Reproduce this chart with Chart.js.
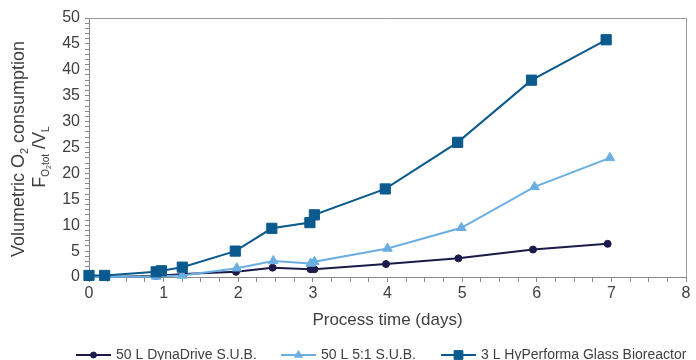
<!DOCTYPE html>
<html><head><meta charset="utf-8">
<script src="https://cdn.jsdelivr.net/npm/chart.js@4.4.1/dist/chart.umd.min.js"></script>
<style>html,body{margin:0;padding:0;background:#fff}#wrap{width:696px;height:360px;position:relative}</style>
</head><body><div id="wrap"><canvas id="c"></canvas></div>
<script>
// ---- data ----
const seriesNames = ["50 L DynaDrive S.U.B.", "50 L 5:1 S.U.B.", "3 L HyPerforma Glass Bioreactor"];
const dynaDriveTime = [0, 0.21, 0.9, 1.27, 1.97, 2.46, 2.97, 3.02, 3.98, 4.95, 5.95, 6.95];
const dynaDriveValues = [0, 0, 0.2, 0.6, 1.0, 1.8, 1.5, 1.5, 2.5, 3.6, 5.3, 6.4];
const fiveToOneTime = [0, 0.21, 0.9, 1.25, 1.98, 2.47, 2.97, 3.02, 4.0, 4.99, 5.97, 6.98];
const fiveToOneValues = [0, 0, 0.1, 0.3, 1.7, 3.1, 2.6, 2.95, 5.5, 9.5, 17.4, 23.0];
const glassTime = [0, 0.21, 0.9, 0.97, 1.25, 1.96, 2.45, 2.96, 3.02, 3.97, 4.94, 5.93, 6.93];
const glassValues = [0.3, 0.3, 1.0, 1.2, 1.9, 5.0, 9.4, 10.5, 12.0, 17.0, 26.0, 38.0, 45.8];
const xTickLabels = [0, 1, 2, 3, 4, 5, 6, 7, 8];
const yTickLabels = [0, 5, 10, 15, 20, 25, 30, 35, 40, 45, 50];
const xAxisTitle = "Process time (days)";

const colors = ["#1b1a48", "#6aaee2", "#0a5a8e"];
const styles = ["circle", "triangle", "rect"];
const radii = [3.5, 5.5, 7.2];
const legendRadii = [3, 4.5, 6.2];
const FONT = "'Liberation Sans', Arial, Helvetica, sans-serif";
const TEXT = "#404040";

function pts(xs, ys) { return xs.map((x, i) => ({x: x, y: ys[i]})); }

const datasets = [
  [dynaDriveTime, dynaDriveValues],
  [fiveToOneTime, fiveToOneValues],
  [glassTime, glassValues]
].map((d, i) => ({
  label: seriesNames[i],
  data: pts(d[0], d[1]),
  borderColor: colors[i],
  backgroundColor: colors[i],
  pointBackgroundColor: colors[i],
  pointBorderColor: colors[i],
  pointStyle: styles[i],
  pointRadius: radii[i],
  pointBorderWidth: 1,
  borderWidth: 2,
  tension: 0,
  clip: false,
  order: 2 - i
}));

function drawRuns(ctx, runs, cx, cy) {
  let total = 0;
  runs.forEach(r => { ctx.font = r.size + "px " + FONT; r.w = ctx.measureText(r.t).width; total += r.w; });
  let x = cx - total / 2;
  runs.forEach(r => {
    ctx.font = r.size + "px " + FONT;
    ctx.fillText(r.t, x, cy + (r.dy || 0));
    x += r.w;
  });
}

const decor = {
  id: "decor",
  afterDraw(chart) {
    const ctx = chart.ctx, a = chart.chartArea;
    ctx.save();
    // top & right frame
    ctx.strokeStyle = "#999";
    ctx.lineWidth = 1;
    ctx.beginPath();
    ctx.moveTo(a.left, Math.round(a.top) + 0.5);
    ctx.lineTo(Math.round(a.right) + 0.5, Math.round(a.top) + 0.5);
    ctx.lineTo(Math.round(a.right) + 0.5, a.bottom);
    ctx.stroke();

    ctx.fillStyle = TEXT;
    ctx.textBaseline = "middle";
    // x title
    ctx.font = "17px " + FONT;
    ctx.textAlign = "center";
    ctx.fillText(xAxisTitle, (a.left + a.right) / 2, 320);
    ctx.textAlign = "left";

    // y title (rotated)
    ctx.save();
    ctx.translate(18, 149);
    ctx.rotate(-Math.PI / 2);
    ctx.textBaseline = "alphabetic";
    drawRuns(ctx, [
      {t: "Volumetric O", size: 18, dy: 6},
      {t: "2", size: 11, dy: 10},
      {t: " consumption", size: 18, dy: 6}
    ], 0, 0);
    ctx.restore();
    ctx.save();
    ctx.translate(39, 157);
    ctx.rotate(-Math.PI / 2);
    ctx.textBaseline = "alphabetic";
    drawRuns(ctx, [
      {t: "F", size: 18, dy: 6},
      {t: "O", size: 10, dy: 10},
      {t: "2", size: 7, dy: 12},
      {t: "tot", size: 10, dy: 10},
      {t: " /V", size: 18, dy: 6},
      {t: "L", size: 10, dy: 10}
    ], 0, 0);
    ctx.restore();

    // legend
    const lx = [76, 281, 441];
    const ly = 355;
    ctx.font = "14px " + FONT;
    ctx.textBaseline = "middle";
    seriesNames.forEach((name, i) => {
      ctx.strokeStyle = colors[i];
      ctx.fillStyle = colors[i];
      ctx.lineWidth = 2;
      ctx.beginPath();
      ctx.moveTo(lx[i], ly);
      ctx.lineTo(lx[i] + 35, ly);
      ctx.stroke();
      ctx.lineWidth = 1;
      Chart.helpers.drawPoint(ctx, {pointStyle: styles[i], radius: legendRadii[i], rotation: 0, borderWidth: 1}, lx[i] + 17.5, ly);
      ctx.fillStyle = TEXT;
      ctx.fillText(name, lx[i] + 40, ly);
    });
    ctx.restore();
  }
};

new Chart(document.getElementById("c"), {
  type: "line",
  data: {datasets: datasets},
  plugins: [decor],
  options: {
    responsive: true,
    maintainAspectRatio: false,
    animation: false,
    layout: {padding: {top: 18, right: 10, left: 0, bottom: 0}},
    plugins: {legend: {display: false}, tooltip: {enabled: false}},
    scales: {
      x: {
        type: "linear", position: "bottom", min: 0, max: 8,
        afterFit: s => { s.height = 83; },
        ticks: {
          stepSize: 0.25, autoSkip: false, maxRotation: 0, padding: 2,
          color: TEXT, font: {size: 16, family: FONT},
          callback: v => xTickLabels.includes(v) ? String(v) : ""
        },
        grid: {drawOnChartArea: false, drawTicks: true, tickLength: 5, color: "#8a8a8a"},
        border: {display: true, color: "#8a8a8a", width: 1}
      },
      y: {
        type: "linear", min: 0, max: 50,
        afterFit: s => { s.width = 89; },
        ticks: {
          stepSize: 1, autoSkip: false, padding: 5,
          color: TEXT, font: {size: 16, family: FONT},
          callback: v => yTickLabels.includes(v) ? String(v) : ""
        },
        grid: {drawOnChartArea: false, drawTicks: true, tickLength: 4, color: "#8a8a8a"},
        border: {display: true, color: "#8a8a8a", width: 1}
      }
    }
  }
});
</script>
</body></html>
